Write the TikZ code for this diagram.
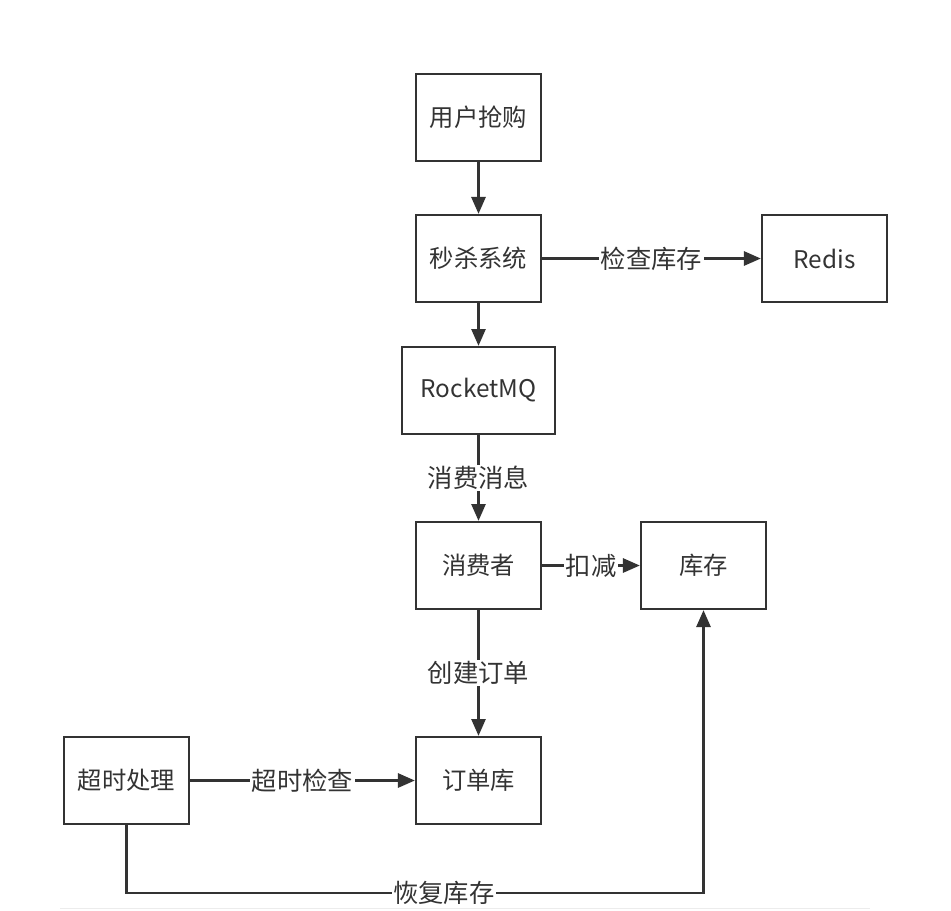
\documentclass[tikz,border=0pt]{standalone}
\usepackage{fontspec}
\setmainfont{Noto Sans CJK SC}
\usepackage{tikz}
\usetikzlibrary{arrows.meta}
\definecolor{ink}{HTML}{333333}

\begin{document}
\begin{tikzpicture}
		[x=0.025cm,y=-0.025cm,
		every node/.style={draw=ink,line width=1.6pt,text=ink,minimum width=3.125cm,minimum height=2.175cm,inner sep=0pt,font=\fontsize{17.3}{20}\selectfont},
		wide/.style={minimum width=3.825cm},
		lbl/.style={draw=none,fill=white,minimum width=0pt,minimum height=0pt,inner sep=1pt,font=\fontsize{18}{20}\selectfont},
		edge/.style={draw=ink,line width=1.8pt,-{Triangle[length=12pt,width=10pt]}}]
		\useasboundingbox (0,0) rectangle (951,910);
		\node (user) at (478.5,117.5) {用户抢购};
		\node (seckill) at (478.5,258.5) {秒杀系统};
		\node (redis) at (824.5,258.5) {Redis};
		\node[wide] (mq) at (478.5,390.5) {RocketMQ};
		\node (consumer) at (478.5,565.5) {消费者};
		\node (stock) at (703.5,565.5) {库存};
		\node (orders) at (478.5,780.5) {订单库};
		\node (timeout) at (126.5,780.5) {超时处理};
		\coordinate (c1) at (126.5,893);
		\coordinate (c2) at (703.5,893);
		
		\foreach \from/\to in {user/seckill,seckill/mq}
		\draw[edge] (\from) -- (\to);
		\draw[edge] (seckill) -- node[lbl] {检查库存} (redis);
		\draw[edge] (mq) -- node[lbl] {消费消息} (consumer);
		\draw[edge] (consumer) -- node[lbl] {扣减} (stock);
		\draw[edge] (consumer) -- node[lbl] {创建订单} (orders);
		\draw[edge] (timeout) -- node[lbl] {超时检查} (orders);
		\draw[edge] (timeout) -- (c1) -- node[lbl,pos=0.55] {恢复库存} (c2) -- (stock);
		\draw[gray!15,line width=0.6pt] (60,908) -- (870,908);
		\end{tikzpicture}
\end{document}
